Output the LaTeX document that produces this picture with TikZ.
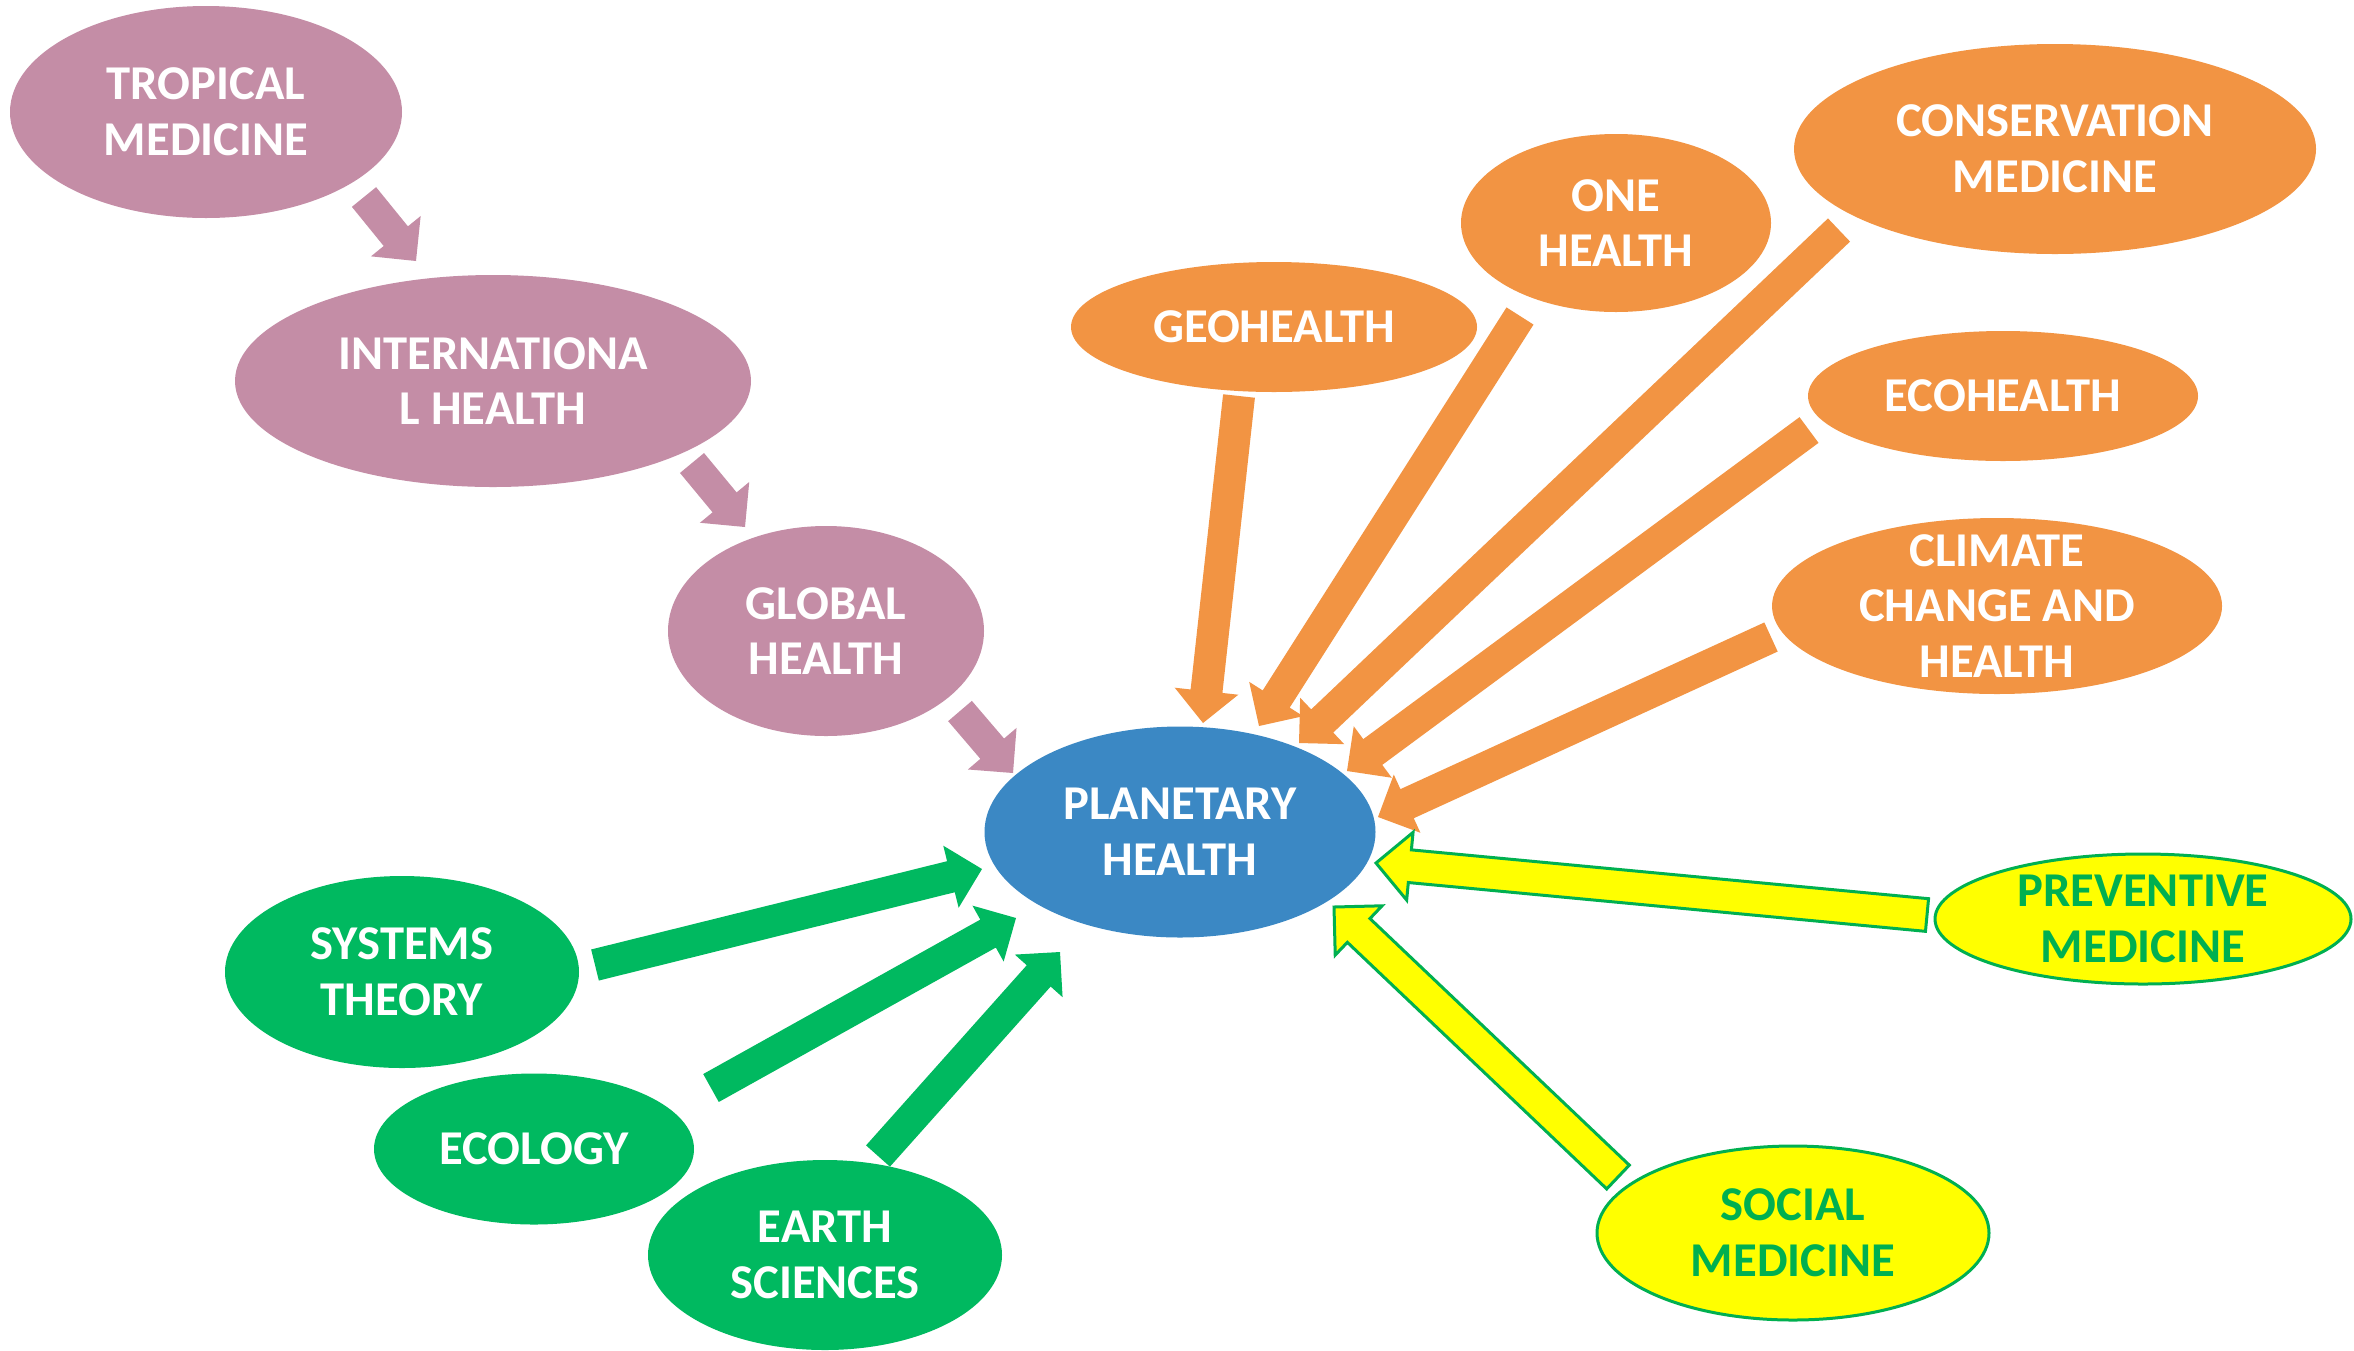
\documentclass[tikz,border=0pt]{standalone}
\usepackage{fontspec}
\setmainfont{Carlito}
\usetikzlibrary{shapes.geometric,calc}
\definecolor{pinkc}{HTML}{C48DA6}
\definecolor{bluec}{HTML}{3B88C4}
\definecolor{orangec}{HTML}{F29443}
\definecolor{greenc}{HTML}{00B960}
\definecolor{yellowc}{HTML}{FFFF00}
\definecolor{ygreen}{HTML}{00B050}
\tikzset{
  bub/.style 2 args={ellipse, inner xsep=0pt, inner ysep=-12pt,
    minimum width=#1pt, minimum height=#2pt, align=center,
    font=\fontsize{24.3pt}{27.8pt}\selectfont\bfseries, text=white},
  pinkbub/.style={fill=pinkc},
  bluebub/.style={fill=bluec},
  greenbub/.style={fill=greenc},
  orangebub/.style={fill=orangec},
  yellowbub/.style={fill=yellowc, draw=ygreen, line width=1.5pt, text=ygreen},
  pinkarr/.style={fill=pinkc},
  orangearr/.style={fill=orangec},
  greenarr/.style={fill=greenc},
  yellowarr/.style={fill=yellowc, draw=ygreen, line width=1.5pt, line join=miter},
}
% #1 style, #2 tail, #3 tip, #4 half shaft width, #5 half head width, #6 head length
\newcommand\blockarr[6]{%
  \coordinate (bac) at ($(#3)!#6!(#2)$);
  \path[#1] ($(#2)!#4!90:(#3)$) -- ($(bac)!#4!90:(#3)$) -- ($(bac)!#5!90:(#3)$)
    -- (#3) -- ($(bac)!#5!-90:(#3)$) -- ($(bac)!#4!-90:(#3)$)
    -- ($(#2)!#4!-90:(#3)$) -- cycle;}
\begin{document}
\begin{tikzpicture}[x=0.5pt,y=-0.5pt]
\fill[white, use as bounding box] (0,0) rectangle (2354,1350);

% nodes
\node[bub={196}{106}, pinkbub] (trop) at (206,112) {TROPICAL\\MEDICINE};
\node[bub={258}{106}, pinkbub] (intl) at (493,381) {INTERNATIONA\\L HEALTH};
\node[bub={158}{105}, pinkbub] (glob) at (826,631) {GLOBAL\\HEALTH};
\node[bub={195.5}{105.5}, bluebub] (plan) at (1180,832) {PLANETARY\\HEALTH};
\node[bub={177}{96}, greenbub] (sys) at (402,972) {SYSTEMS\\THEORY};
\node[bub={160}{75.5}, greenbub] (ecol) at (534,1149) {ECOLOGY};
\node[bub={177}{95}, greenbub] (earth) at (825,1255) {EARTH\\SCIENCES};
\node[bub={203}{65}, orangebub] (geo) at (1274,327) {GEOHEALTH};
\node[bub={155}{89}, orangebub] (one) at (1616,223) {ONE\\HEALTH};
\node[bub={261}{105}, orangebub] (cons) at (2055,149) {CONSERVATION\\MEDICINE};
\node[bub={195}{65}, orangebub] (ecoh) at (2003,396) {ECOHEALTH};
\node[bub={225}{88}, orangebub] (clim) at (1997,606) {CLIMATE\\CHANGE AND\\HEALTH};
\node[bub={208}{65}, yellowbub] (prev) at (2143,919) {PREVENTIVE\\MEDICINE};
\node[bub={196}{87}, yellowbub] (soc) at (1793,1233) {SOCIAL\\MEDICINE};

% arrow end points
\coordinate (p1t) at (364,197);  \coordinate (p1h) at (416,261);
\coordinate (p2t) at (692,463);  \coordinate (p2h) at (745,527);
\coordinate (p3t) at (960,711);  \coordinate (p3h) at (1013,773);
\coordinate (o1t) at (1239,396); \coordinate (o1h) at (1203,723);
\coordinate (o2t) at (1520,316); \coordinate (o2h) at (1259,726);
\coordinate (o3t) at (1839,230); \coordinate (o3h) at (1299,743);
\coordinate (o4t) at (1809,430); \coordinate (o4h) at (1347,771);
\coordinate (o5t) at (1771,637); \coordinate (o5h) at (1378,817);
\coordinate (g1t) at (595,965);  \coordinate (g1h) at (982,869);
\coordinate (g2t) at (711,1088); \coordinate (g2h) at (1016,918);
\coordinate (g3t) at (878,1156); \coordinate (g3h) at (1060,952);
\coordinate (y1t) at (1927,915); \coordinate (y1h) at (1376,863);
\coordinate (y2t) at (1618,1177);\coordinate (y2h) at (1334,907);

% arrows
\blockarr{pinkarr}{p1t}{p1h}{7.8pt}{16pt}{16pt}
\blockarr{pinkarr}{p2t}{p2h}{7.8pt}{16pt}{16pt}
\blockarr{pinkarr}{p3t}{p3h}{7.8pt}{16pt}{16pt}
\blockarr{orangearr}{o1t}{o1h}{8pt}{16pt}{16pt}
\blockarr{orangearr}{o2t}{o2h}{8pt}{16pt}{16pt}
\blockarr{orangearr}{o3t}{o3h}{8pt}{16pt}{16pt}
\blockarr{orangearr}{o4t}{o4h}{8pt}{16pt}{16pt}
\blockarr{orangearr}{o5t}{o5h}{8pt}{16pt}{16pt}
\blockarr{greenarr}{g1t}{g1h}{8pt}{16pt}{16pt}
\blockarr{greenarr}{g2t}{g2h}{8pt}{16pt}{16pt}
\blockarr{greenarr}{g3t}{g3h}{8pt}{16pt}{16pt}
\blockarr{yellowarr}{y1t}{y1h}{8.2pt}{17pt}{17pt}
\blockarr{yellowarr}{y2t}{y2h}{8.2pt}{17pt}{17pt}
\end{tikzpicture}
\end{document}
